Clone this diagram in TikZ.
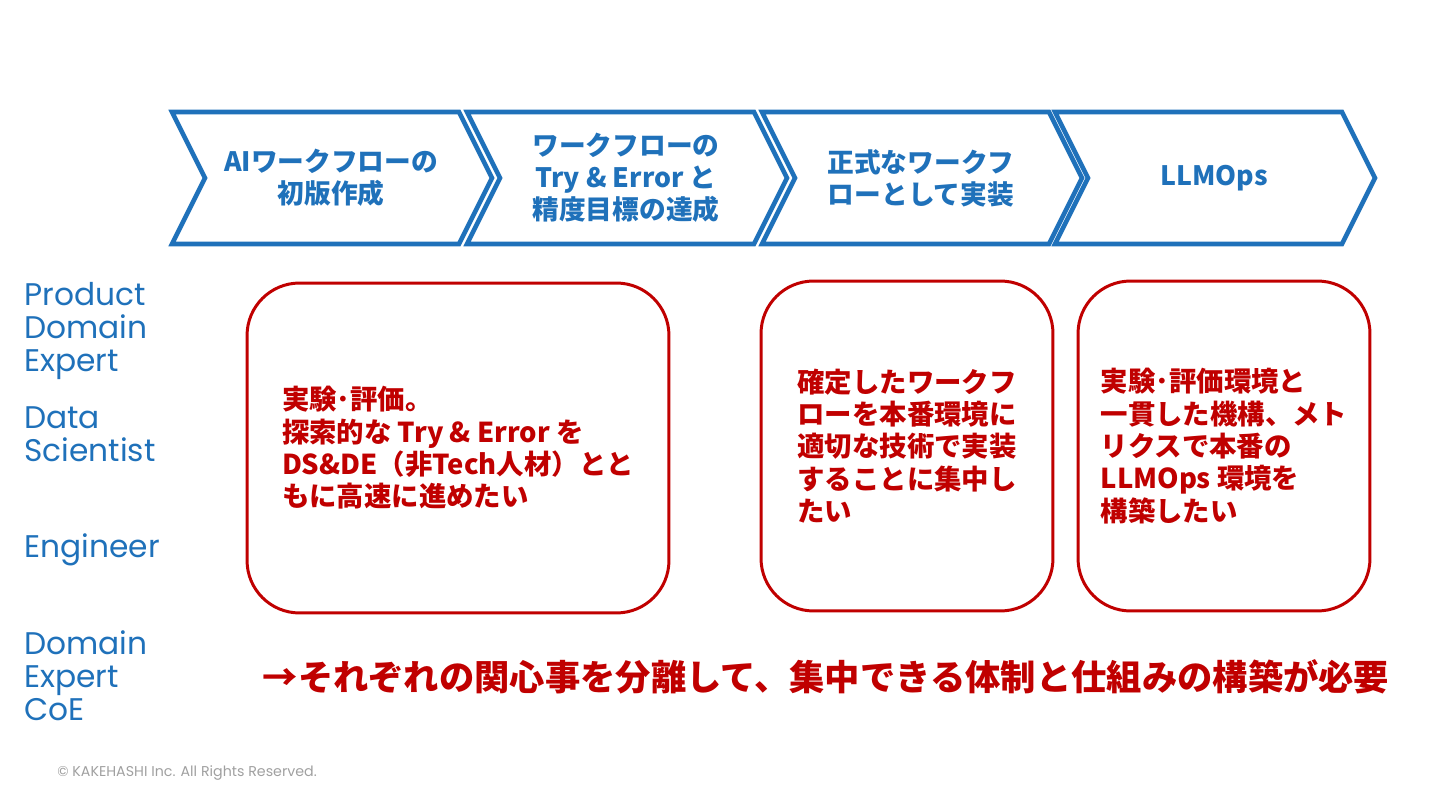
\documentclass[tikz,border=0pt]{standalone}
\usepackage{fontspec}
\usepackage{tikz}
\usetikzlibrary{positioning}
\setmainfont{Noto Sans CJK JP}
\newfontfamily\labfont{Poppins}
\definecolor{kblue}{RGB}{31,113,186}
\definecolor{kred}{RGB}{192,0,0}
\definecolor{kgray}{RGB}{160,160,160}

\begin{document}
\begin{tikzpicture}[x=0.02cm, y=-0.02cm,
  chev/.style={draw=kblue, line width=2.6pt, fill=white},
  chevtext/.style={text=kblue, font=\bfseries\fontsize{15.2}{18.2}\selectfont, align=center},
  needbox/.style={draw=kred, line width=1.7pt, rounded corners=1.05cm, minimum height=6.6cm,
    text=kred, font=\bfseries\fontsize{15.6}{18.4}\selectfont, align=left},
  role/.style={text=kblue, font=\labfont\fontsize{17.8}{18.8}\selectfont, align=left, anchor=west, inner sep=0pt}]
\useasboundingbox (0,0) rectangle (1440,810);

% phases: chevrons along the top
\foreach \x in {172,467,762,1055}
  \draw[chev] (\x,112) -- ++(287,0) -- ++(33,66) -- ++(-33,66) -- ++(-287,0) -- ++(33,-66) -- cycle;
\node[chevtext] (ph1) at (331,178) {AIワークフローの\\初版作成};
\node[chevtext] (ph2) at (626,178) {ワークフローの\\Try \& Error と\\精度目標の達成};
\node[chevtext] (ph3) at (921,178) {正式なワークフ\\ローとして実装};
\node[chevtext] (ph4) at (1214,178) {LLMOps};

% roles on the left
\node[role] (pde) at (24,331) {Product\\Domain\\Expert};
\node[role] (ds) at (24,434) {Data\\Scientist};
\node[role] (eng) at (24,550) {Engineer};
\node[role] (coe) at (24,676) {Domain\\Expert\\CoE};

% what each phase needs
\node[needbox, minimum width=8.44cm] (need1) at (458,448)
  {実験･評価。\\探索的な Try \& Error を\\DS\&DE（非Tech人材）とと\\もに高速に進めたい};
\node[needbox, minimum width=5.84cm] (need3) at (907,446)
  {確定したワークフ\\ローを本番環境に\\適切な技術で実装\\することに集中し\\たい};
\node[needbox, minimum width=5.84cm] (need4) at (1224,446)
  {実験･評価環境と\\一貫した機構、メト\\リクスで本番の\\LLMOps 環境を\\構築したい};

% conclusion
\node[text=kred, font=\bfseries\fontsize{20.1}{22}\selectfont] (concl) at (826,677)
  {→それぞれの関心事を分離して、集中できる体制と仕組みの構築が必要};

\node[text=kgray, font=\labfont\fontsize{8.1}{9}\selectfont, anchor=west, inner sep=0pt] (copy) at (57,773)
  {© KAKEHASHI Inc. All Rights Reserved.};
\end{tikzpicture}
\end{document}
